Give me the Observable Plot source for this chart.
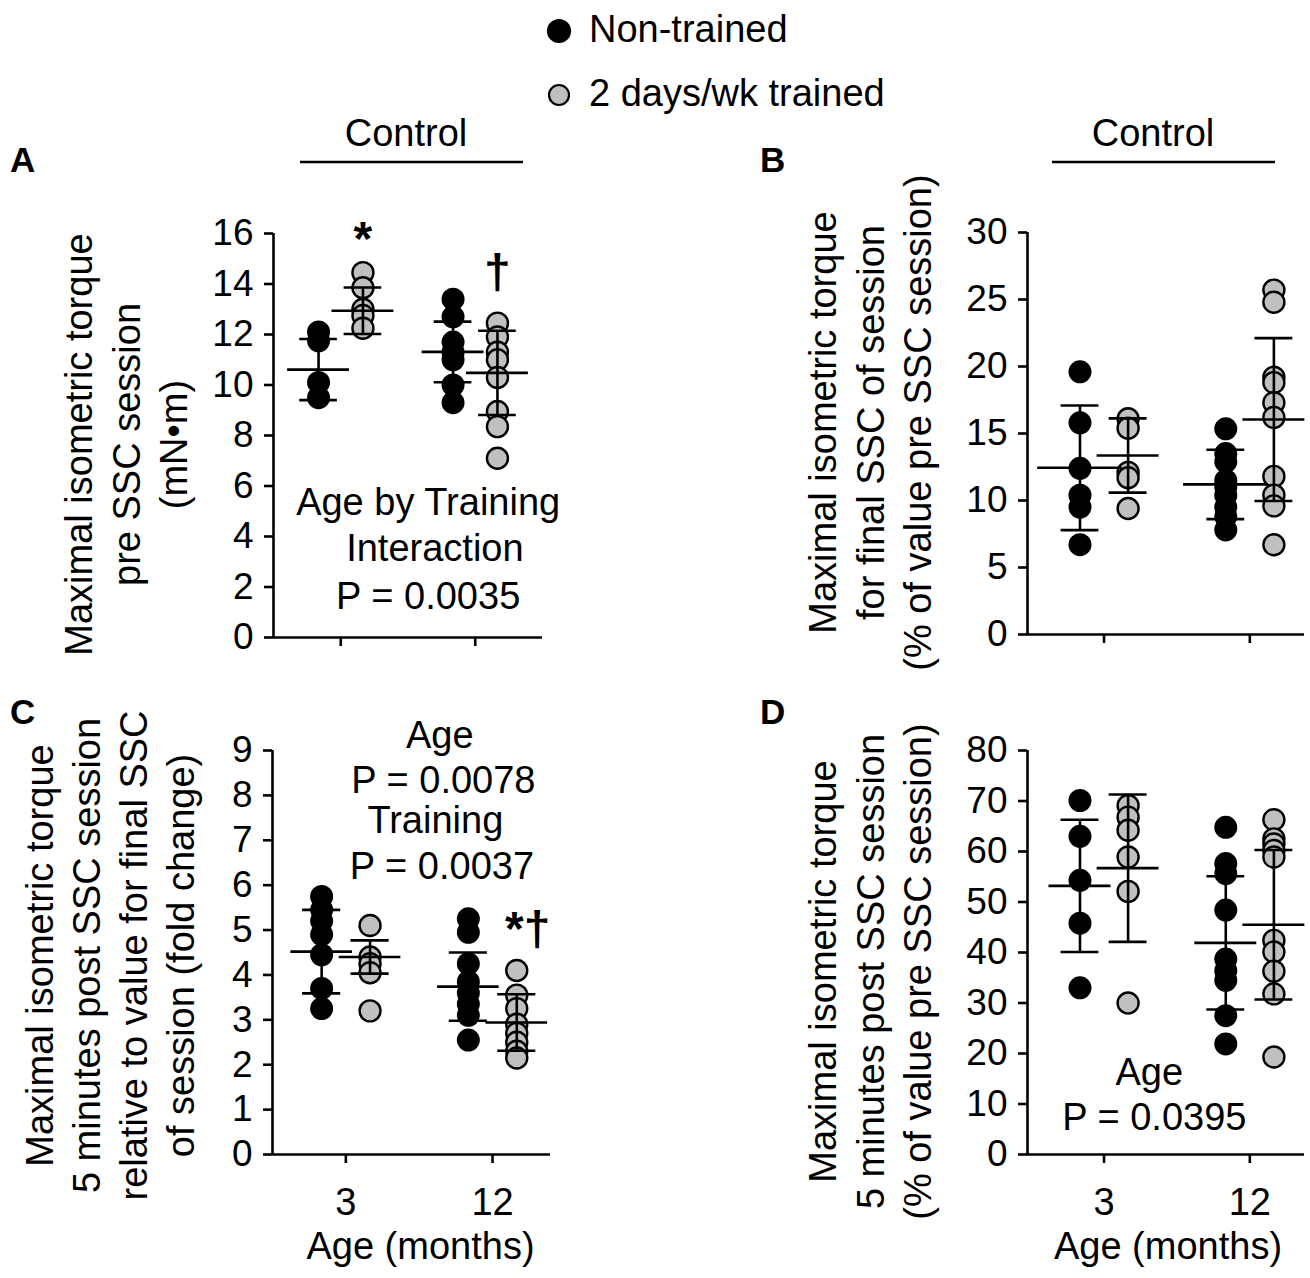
<!DOCTYPE html>
<html><head><meta charset="utf-8">
<script src="https://cdn.jsdelivr.net/npm/d3@7"></script>
<script src="https://cdn.jsdelivr.net/npm/@observablehq/plot@0.6"></script>
<style>
body{margin:0;background:#fff;}
#wrap{position:relative;width:1310px;height:1278px;font-family:"Liberation Sans",Arial,sans-serif;}
#wrap svg{position:absolute;overflow:visible;}
</style></head><body><div id="wrap"></div>
<script>
// ---------- data ----------
const ages = ["3", "12"];
const seriesNames = ["Non-trained", "2 days/wk trained"];

// Panel A: maximal isometric torque pre SSC session (mN·m)
const aNon3 = [12.1, 11.75, 10.1, 9.5];
const aNon12 = [13.4, 12.7, 11.7, 11.3, 11.0, 10.0, 9.3];
const aTr3 = [14.45, 13.85, 13.0, 12.75, 12.25];
const aTr12 = [12.45, 11.9, 11.3, 11.0, 10.3, 8.95, 8.35, 7.1];
const aMeanNon = [10.61, 11.31], aSdNon = [1.21, 1.2];
const aMeanTr = [12.94, 10.48], aSdTr = [0.92, 1.67];

// Panel B: torque for final SSC of session (% of value pre SSC session)
const bNon3 = [19.6, 15.8, 12.4, 10.4, 9.5, 6.7];
const bNon12 = [15.35, 13.5, 12.9, 11.5, 11.0, 10.4, 9.5, 8.8, 7.8];
const bTr3 = [16.1, 15.4, 12.1, 11.7, 9.4];
const bTr12 = [25.7, 24.8, 19.2, 18.8, 17.3, 16.2, 11.8, 10.4, 9.6, 6.7];
const bMeanNon = [12.44, 11.2], bSdNon = [4.65, 2.59];
const bMeanTr = [13.36, 16.04], bSdTr = [2.77, 6.08];

// Panel C: torque 5 min post SSC session relative to final SSC (fold change)
const cNon3 = [5.75, 5.45, 5.2, 4.9, 4.45, 3.7, 3.25];
const cNon12 = [5.25, 4.95, 4.25, 3.85, 3.6, 3.35, 3.1, 2.55];
const cTr3 = [5.1, 4.4, 4.25, 4.05, 3.2];
const cTr12 = [4.1, 3.55, 3.25, 2.9, 2.7, 2.5, 2.3, 2.15];
const cMeanNon = [4.52, 3.74], cSdNon = [0.93, 0.76];
const cMeanTr = [4.40, 2.94], cSdTr = [0.37, 0.63];

// Panel D: torque 5 min post SSC session (% of value pre SSC session)
const dNon3 = [70.1, 63.0, 54.3, 45.8, 33.0];
const dNon12 = [64.8, 57.6, 55.6, 48.4, 38.7, 36.4, 34.5, 27.5, 21.9];
const dTr3 = [69.1, 66.8, 64.2, 58.9, 52.1, 30.0];
const dTr12 = [66.3, 62.5, 61.5, 60.2, 58.9, 42.4, 40.1, 36.3, 31.8, 19.3];
const dMeanNon = [53.2, 41.9], dSdNon = [13.1, 13.2];
const dMeanTr = [56.7, 45.5], dSdTr = [14.6, 14.8];

// tick labels
const aTicks = [0, 2, 4, 6, 8, 10, 12, 14, 16];
const bTicks = [0, 5, 10, 15, 20, 25, 30];
const cTicks = [0, 1, 2, 3, 4, 5, 6, 7, 8, 9];
const dTicks = [0, 10, 20, 30, 40, 50, 60, 70, 80];

// text
const aYLabel = "Maximal isometric torque\npre SSC session\n(mN•m)";
const bYLabel = "Maximal isometric torque\nfor final SSC of session\n(% of value pre SSC session)";
const cYLabel = "Maximal isometric torque\n5 minutes post SSC session\nrelative to value for final SSC\nof session (fold change)";
const dYLabel = "Maximal isometric torque\n5 minutes post SSC session\n(% of value pre SSC session)";
const xTitle = "Age (months)";
const aNotes = [{x: 2.30, y: 5.35, t: "Age by Training"}, {x: 2.40, y: 3.52, t: "Interaction"}, {x: 2.30, y: 1.62, t: "P = 0.0035"}];
const cNotes = [{x: 2.28, y: 9.33, t: "Age"}, {x: 2.33, y: 8.33, t: "P = 0.0078"}, {x: 2.22, y: 7.44, t: "Training"}, {x: 2.31, y: 6.41, t: "P = 0.0037"}];
const dNotes = [{x: 1.62, y: 16.2, t: "Age"}, {x: 1.69, y: 7.3, t: "P = 0.0395"}];
const aSig = [{x: 1.33, y: 15.75, t: "*"}, {x: 3.33, y: 14.45, t: "†"}];
const cSig = [{x: 3.48, y: 5.0, t: "*†"}];

// ---------- drawing ----------
const FONT = '"Liberation Sans", Arial, sans-serif';
const wrap = document.getElementById("wrap");

function panel(cfg) {
  const off = 0.33;
  const pos = i => 1 + 2 * i;
  const nonPts = [], trPts = [], stats = [];
  cfg.non.forEach((vals, i) => vals.forEach(v => nonPts.push({x: pos(i) - off, y: v})));
  cfg.tr.forEach((vals, i) => vals.forEach(v => trPts.push({x: pos(i) + off, y: v})));
  ages.forEach((a, i) => {
    stats.push({x: pos(i) - off, m: cfg.meanNon[i], sd: cfg.sdNon[i], h: cfg.halfNon});
    stats.push({x: pos(i) + off, m: cfg.meanTr[i], sd: cfg.sdTr[i], h: cfg.halfTr});
  });
  const [x0, x1] = cfg.xDomain, [y0, y1] = cfg.yDomain;
  const sw = 2.6;
  const marks = [
    Plot.dot(nonPts, {x: "x", y: "y", r: 10.5, fill: "#000", stroke: "#000", strokeWidth: 2}),
    Plot.dot(trPts, {x: "x", y: "y", r: 10.5, fill: "#c0c0c0", stroke: "#000", strokeWidth: 2.4}),
    Plot.ruleX(stats, {x: "x", y1: d => d.m - d.sd, y2: d => d.m + d.sd, stroke: "#000", strokeWidth: sw}),
    Plot.ruleY(stats, {y: "m", x1: d => d.x - d.h, x2: d => d.x + d.h, stroke: "#000", strokeWidth: sw}),
    Plot.ruleY(stats, {y: d => d.m + d.sd, x1: d => d.x - cfg.cap, x2: d => d.x + cfg.cap, stroke: "#000", strokeWidth: sw}),
    Plot.ruleY(stats, {y: d => d.m - d.sd, x1: d => d.x - cfg.cap, x2: d => d.x + cfg.cap, stroke: "#000", strokeWidth: sw}),
    Plot.axisY({ticks: cfg.yTicks, tickSize: 9, tickPadding: 11, fontSize: 37, label: null, strokeWidth: sw, tickFormat: d => String(d)}),
    Plot.axisX({ticks: [1, 3], tickSize: 9, tickPadding: 25, fontSize: 38, label: null, strokeWidth: sw,
      tickFormat: d => cfg.xLabels ? ages[(d - 1) / 2] : ""}),
    Plot.ruleX([x0], {y1: y0, y2: y1, stroke: "#000", strokeWidth: sw}),
    Plot.ruleY([y0], {x1: x0, x2: x1, stroke: "#000", strokeWidth: sw}),
    Plot.text([cfg.yLabel], {text: d => d, frameAnchor: "left", textAnchor: "middle", lineAnchor: "middle",
      dx: cfg.yLabelDx, dy: cfg.yLabelDy, rotate: -90, lineHeight: 1.24, fontSize: 38}),
    Plot.text(cfg.notes, {x: "x", y: "y", text: "t", fontSize: 38}),
  ];
  if (cfg.xLabels) marks.push(Plot.text([xTitle], {text: d => d, frameAnchor: "bottom", textAnchor: "middle", lineAnchor: "middle",
    dx: cfg.xTitleDx, dy: 92, fontSize: 38}));
  if (cfg.sig) marks.push(Plot.text(cfg.sig, {x: "x", y: "y", text: "t", fontSize: 48, fontWeight: "bold"}));
  const svg = Plot.plot({
    width: cfg.width, height: cfg.height,
    marginTop: cfg.mt, marginRight: cfg.mr, marginBottom: cfg.mb, marginLeft: cfg.ml,
    x: {domain: cfg.xDomain, axis: null},
    y: {domain: cfg.yDomain, axis: null},
    style: {fontFamily: FONT, color: "#000", background: "transparent", overflow: "visible"},
    marks
  });
  svg.style.left = cfg.left + "px";
  svg.style.top = cfg.top + "px";
  wrap.appendChild(svg);
}

panel({left: 0, top: 110, width: 655, height: 550, mt: 123, mr: 113, mb: 23, ml: 273,
  xDomain: [0, 4], yDomain: [0, 16], yTicks: aTicks,
  non: [aNon3, aNon12], tr: [aTr3, aTr12], meanNon: aMeanNon, sdNon: aSdNon, meanTr: aMeanTr, sdTr: aSdTr,
  halfNon: 0.46, halfTr: 0.46, cap: 0.28, xLabels: false,
  yLabel: aYLabel, yLabelDx: -149, yLabelDy: 9, notes: aNotes, sig: aSig});

panel({left: 655, top: 110, width: 655, height: 550, mt: 122, mr: 6, mb: 26, ml: 372,
  xDomain: [-0.05, 3.75], yDomain: [0, 30], yTicks: bTicks,
  non: [bNon3, bNon12], tr: [bTr3, bTr12], meanNon: bMeanNon, sdNon: bSdNon, meanTr: bMeanTr, sdTr: bSdTr,
  halfNon: 0.58, halfTr: 0.425, cap: 0.26, xLabels: false,
  yLabel: bYLabel, yLabelDx: -159, yLabelDy: -11, notes: [], sig: null});

panel({left: 0, top: 660, width: 655, height: 618, mt: 90, mr: 105, mb: 124, ml: 272,
  xDomain: [0, 3.79], yDomain: [0, 9], yTicks: cTicks,
  non: [cNon3, cNon12], tr: [cTr3, cTr12], meanNon: cMeanNon, sdNon: cSdNon, meanTr: cMeanTr, sdTr: cSdTr,
  halfNon: 0.42, halfTr: 0.42, cap: 0.26, xLabels: true, xTitleDx: 9,
  yLabel: cYLabel, yLabelDx: -164, yLabelDy: 3, notes: cNotes, sig: cSig});

panel({left: 655, top: 660, width: 655, height: 618, mt: 90, mr: 6, mb: 124, ml: 372,
  xDomain: [-0.05, 3.75], yDomain: [0, 80], yTicks: dTicks,
  non: [dNon3, dNon12], tr: [dTr3, dTr12], meanNon: dMeanNon, sdNon: dSdNon, meanTr: dMeanTr, sdTr: dSdTr,
  halfNon: 0.425, halfTr: 0.425, cap: 0.26, xLabels: true, xTitleDx: 2,
  yLabel: dYLabel, yLabelDx: -159, yLabelDy: 19, notes: dNotes, sig: null});

// ---------- legend, panel letters, "Control" headers ----------
const ov = d3.select(wrap).append("svg").attr("width", 1310).attr("height", 1278)
  .style("left", "0px").style("top", "0px").style("pointer-events", "none")
  .attr("font-family", FONT);
const legendRows = [{y: 31, fill: "#000", r: 11}, {y: 95, fill: "#c0c0c0", r: 10}];
legendRows.forEach((row, i) => {
  ov.append("circle").attr("cx", 559).attr("cy", row.y).attr("r", row.r).attr("fill", row.fill).attr("stroke", "#000").attr("stroke-width", 2.2);
  ov.append("text").attr("x", 589).attr("y", row.y + 11).attr("font-size", 38).text(seriesNames[i]);
});
[["A", 10, 172], ["B", 760, 172], ["C", 10, 724], ["D", 760, 724]].forEach(([t, x, y]) => {
  ov.append("text").attr("x", x).attr("y", y).attr("font-size", 35).attr("font-weight", "bold").text(t);
});
[[406, 300, 523], [1153, 1052, 1275]].forEach(([cx, xa, xb]) => {
  ov.append("text").attr("x", cx).attr("y", 146).attr("font-size", 38).attr("text-anchor", "middle").text("Control");
  ov.append("line").attr("x1", xa).attr("x2", xb).attr("y1", 162).attr("y2", 162).attr("stroke", "#000").attr("stroke-width", 2.6);
});
</script>
</body></html>
